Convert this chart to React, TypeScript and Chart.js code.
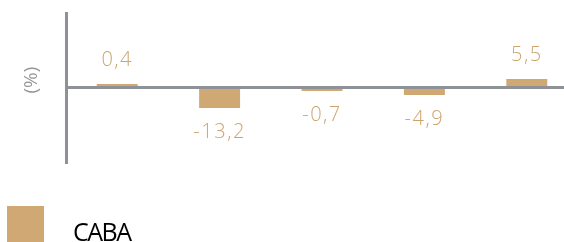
import { useEffect, useRef } from 'react';
import { Chart, registerables } from 'chart.js';

Chart.register(...registerables);

// ---- data ----
const categories = ['1', '2', '3', '4', '5'];
const seriesName = 'CABA';
const values = [0.4, -13.2, -0.7, -4.9, 5.5];
const yMin = -48;
const yMax = 48;
const yTitle = '(%)';

// ---- styles ----
const BAR = '#CFA874';
const LABEL = '#CDA46E';
const AXIS = '#8E9196';
const FONT = "'Open Sans', 'Noto Sans', sans-serif";
const LEGEND_FONT = "'Liberation Sans Narrow', 'Open Sans', sans-serif";

const fmt = (v: number) => v.toFixed(1).replace('.', ',');

const valueLabels = {
  id: 'valueLabels',
  afterDatasetsDraw(chart: any) {
    const ctx = chart.ctx as CanvasRenderingContext2D;
    const meta = chart.getDatasetMeta(0);
    ctx.save();
    ctx.font = `300 20px ${FONT}`;
    ctx.fillStyle = LABEL;
    ctx.textAlign = 'center';
    ctx.textBaseline = 'middle';
    (ctx as any).letterSpacing = '1.5px';
    meta.data.forEach((el: any, i: number) => {
      const v = values[i];
      const { x, y } = el.getProps(['x', 'y'], true);
      const dy = v >= 0 ? -24 : 24;
      ctx.fillText(fmt(v), x, y + dy);
    });
    ctx.restore();
  },
};

// simple legend drawn below the plot (swatch + series name)
const bottomLegend = {
  id: 'bottomLegend',
  afterDraw(chart: any) {
    const ctx = chart.ctx as CanvasRenderingContext2D;
    const ds = chart.data.datasets[0];
    const top = chart.chartArea.bottom + 44;
    ctx.save();
    ctx.fillStyle = ds.backgroundColor;
    ctx.fillRect(7, top, 37, 37);
    ctx.fillStyle = '#000';
    ctx.font = `25px ${LEGEND_FONT}`;
    ctx.textAlign = 'left';
    ctx.textBaseline = 'alphabetic';
    const w = ctx.measureText(ds.label).width;
    if (w > 58) (ctx as any).letterSpacing = '-1.5px';
    ctx.fillText(ds.label, 73, top + 35);
    ctx.restore();
  },
};

export default function App() {
  const ref = useRef<HTMLCanvasElement | null>(null);

  useEffect(() => {
    if (!ref.current) return;
    const chart = new Chart(ref.current, {
      type: 'bar',
      data: {
        labels: categories,
        datasets: [
          {
            label: seriesName,
            data: values,
            backgroundColor: BAR,
            borderWidth: 0,
            barPercentage: 0.4,
            categoryPercentage: 1,
            minBarLength: 3.5,
          },
        ],
      },
      plugins: [valueLabels, bottomLegend],
      options: {
        animation: false,
        responsive: false,
        maintainAspectRatio: false,
        layout: { padding: { top: 13, right: 2, left: 0, bottom: 80 } },
        plugins: {
          tooltip: { enabled: false },
          legend: { display: false },
        },
        scales: {
          x: {
            display: false,
          },
          y: {
            min: yMin,
            max: yMax,
            z: 1,
            ticks: { display: false, stepSize: 12 },
            grid: {
              drawTicks: false,
              lineWidth: 3,
              color: (c: any) => (c.tick && c.tick.value === 0 ? AXIS : 'rgba(0,0,0,0)'),
            },
            border: { display: true, color: AXIS, width: 3 },
            title: {
              display: true,
              text: '   ' + yTitle,
              color: '#959595',
              font: { family: FONT, size: 19, weight: '400' as any },
              padding: { top: 20, bottom: 0 },
            },
            afterFit: (s: any) => {
              s.width = 66;
            },
          },
        },
      },
    });
    return () => chart.destroy();
  }, []);

  return (
    <div style={{ position: 'fixed', left: 0, top: 0, width: 564, height: 242, overflow: 'hidden', background: '#fff' }}>
      <canvas ref={ref} width={580} height={242} style={{ width: 580, height: 242, display: 'block' }} />
    </div>
  );
}
